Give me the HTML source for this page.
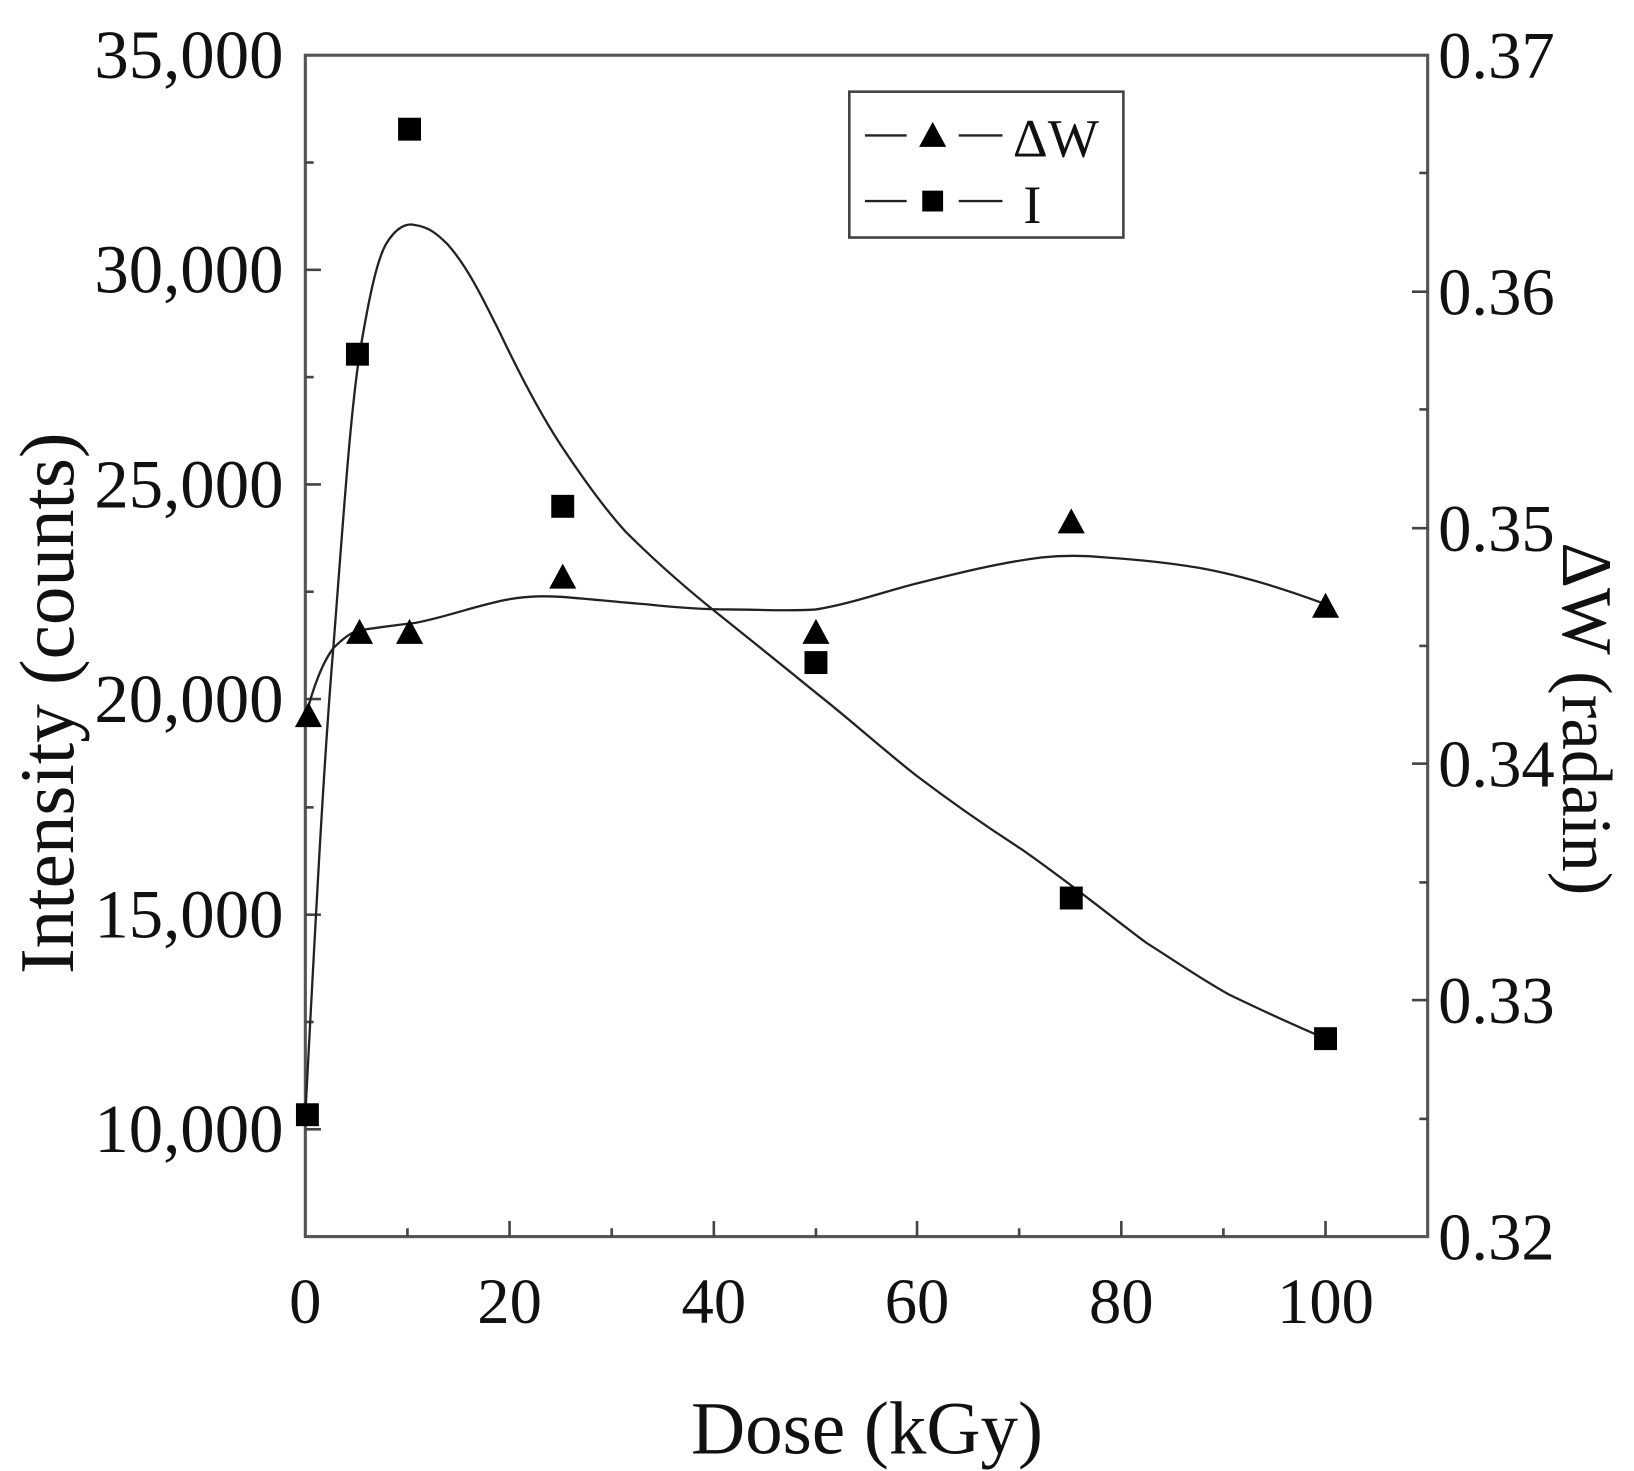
<!DOCTYPE html>
<html><head><style>html,body{margin:0;padding:0;background:#fff}svg{display:block}</style></head><body>
<svg width="1634" height="1471" viewBox="0 0 1568 1412" preserveAspectRatio="none" xmlns="http://www.w3.org/2000/svg" font-family="Liberation Serif, serif" fill="#111">
<rect x="293" y="53" width="1077" height="1134" fill="none" stroke="#555" stroke-width="3"/>
<g stroke="#444" stroke-width="2.5">
<line x1="391" y1="1187" x2="391" y2="1179"/><line x1="489" y1="1187" x2="489" y2="1172"/>
<line x1="587" y1="1187" x2="587" y2="1179"/><line x1="685" y1="1187" x2="685" y2="1172"/>
<line x1="783" y1="1187" x2="783" y2="1179"/><line x1="880" y1="1187" x2="880" y2="1172"/>
<line x1="978" y1="1187" x2="978" y2="1179"/><line x1="1076" y1="1187" x2="1076" y2="1172"/>
<line x1="1174" y1="1187" x2="1174" y2="1179"/><line x1="1272" y1="1187" x2="1272" y2="1172"/>
<line x1="293" y1="1084" x2="308" y2="1084"/><line x1="293" y1="981" x2="301" y2="981"/>
<line x1="293" y1="878" x2="308" y2="878"/><line x1="293" y1="775" x2="301" y2="775"/>
<line x1="293" y1="671" x2="308" y2="671"/><line x1="293" y1="568" x2="301" y2="568"/>
<line x1="293" y1="465" x2="308" y2="465"/><line x1="293" y1="362" x2="301" y2="362"/>
<line x1="293" y1="259" x2="308" y2="259"/><line x1="293" y1="156" x2="301" y2="156"/>
<line x1="1370" y1="1074" x2="1362" y2="1074"/><line x1="1370" y1="960" x2="1355" y2="960"/>
<line x1="1370" y1="847" x2="1362" y2="847"/><line x1="1370" y1="733" x2="1355" y2="733"/>
<line x1="1370" y1="620" x2="1362" y2="620"/><line x1="1370" y1="507" x2="1355" y2="507"/>
<line x1="1370" y1="393" x2="1362" y2="393"/><line x1="1370" y1="280" x2="1355" y2="280"/>
<line x1="1370" y1="166" x2="1362" y2="166"/>
</g>
<g font-size="66" text-anchor="end">
<text x="272" y="1106">10,000</text><text x="272" y="900">15,000</text><text x="272" y="693">20,000</text>
<text x="272" y="487">25,000</text><text x="272" y="281">30,000</text><text x="272" y="75">35,000</text>
</g>
<g font-size="64">
<text x="1380" y="1209">0.32</text><text x="1380" y="982">0.33</text><text x="1380" y="755">0.34</text>
<text x="1380" y="529">0.35</text><text x="1380" y="302">0.36</text><text x="1380" y="75">0.37</text>
</g>
<g font-size="62" text-anchor="middle">
<text x="293" y="1270">0</text><text x="489" y="1270">20</text><text x="685" y="1270">40</text>
<text x="880" y="1270">60</text><text x="1076" y="1270">80</text><text x="1272" y="1270">100</text>
</g>
<text x="832" y="1395" font-size="72" text-anchor="middle">Dose (kGy)</text>
<text transform="translate(70,675) rotate(-90)" font-size="74" text-anchor="middle">Intensity (counts)</text>
<text transform="translate(1500,690) rotate(90)" font-size="68" text-anchor="middle">ΔW (radain)</text>
<g fill="none" stroke="#222" stroke-width="2.2">
<path d="M293,1070 C302,900 310,740 320,620 C330,490 336,400 345,340 C355,280 362,250 370,235 C380,218 390,214 398,216 C412,218 420,225 430,235 C450,258 465,290 480,320 C500,362 520,400 540,430 C560,460 580,488 600,510 C630,540 660,566 690,590 C720,614 750,638 783,665 C815,690 848,720 880,745 C913,770 946,793 980,815 C996,826 1012,838 1028,850 C1052,868 1076,887 1100,905 C1127,922 1153,940 1180,955 C1211,970 1242,984 1272,997"/>
<path d="M293,690 C300,660 310,635 320,622 C330,612 337,607 345,605 C365,602 380,600 398,598 C430,592 460,580 490,575 C507,572 522,572 540,573 C566,575 593,578 620,580 C647,583 673,585 700,585 C728,585 756,587 783,585 C815,580 848,568 880,560 C920,550 960,540 1000,535 C1020,533 1040,533 1060,535 C1090,537 1120,540 1150,545 C1190,552 1232,565 1272,580"/>
</g>
<g fill="#000">
<rect x="284" y="1059" width="22" height="22"/><rect x="332" y="329" width="22" height="22"/>
<rect x="382" y="113" width="22" height="22"/><rect x="529" y="475" width="22" height="22"/>
<rect x="772" y="625" width="22" height="22"/><rect x="1017" y="851" width="22" height="22"/>
<rect x="1261" y="986" width="22" height="22"/>
<polygon points="296,674 283,698 309,698"/><polygon points="345,594 332,618 358,618"/>
<polygon points="393,594 380,618 406,618"/><polygon points="540,541 527,565 553,565"/>
<polygon points="783,594 770,618 796,618"/><polygon points="1028,488 1015,512 1041,512"/>
<polygon points="1272,569 1259,593 1285,593"/>
</g>
<rect x="815" y="88" width="263" height="140" fill="#fff" stroke="#444" stroke-width="2.5"/>
<g stroke="#222" stroke-width="2.2"><line x1="830" y1="130" x2="870" y2="130"/><line x1="920" y1="130" x2="962" y2="130"/><line x1="830" y1="193" x2="870" y2="193"/><line x1="920" y1="193" x2="962" y2="193"/></g>
<polygon points="895,117 882,141 908,141" fill="#000"/>
<rect x="885" y="183" width="20" height="20" fill="#000"/>
<text x="972" y="150" font-size="52">ΔW</text>
<text x="982" y="214" font-size="52">I</text>
</svg>
</body></html>
